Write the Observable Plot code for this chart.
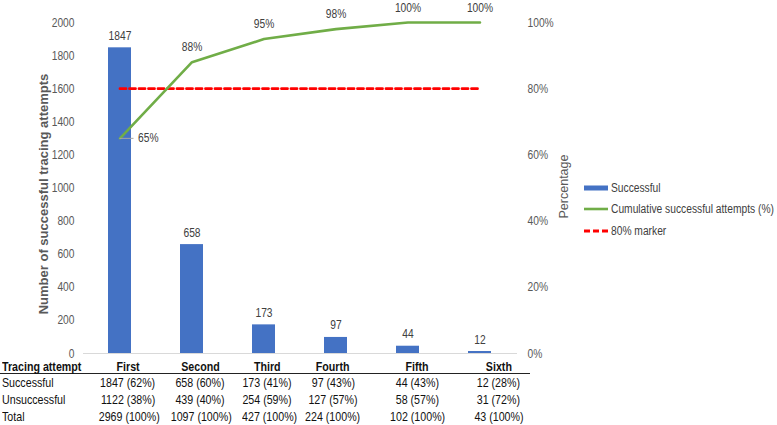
<!DOCTYPE html>
<html>
<head>
<meta charset="utf-8">
<script src="https://cdn.jsdelivr.net/npm/d3@7"></script>
<script src="https://cdn.jsdelivr.net/npm/@observablehq/plot@0.6"></script>
<style>
  html, body { margin: 0; padding: 0; background: #fff; }
  #wrap { position: relative; width: 777px; height: 425px; overflow: hidden;
          font-family: 'Liberation Sans', Arial, sans-serif; }
  #chart svg { overflow: visible; display: block; }
  #legend { position: absolute; left: 584px; top: 177px; font-size: 12.5px; color: #404040; }
  #legend .row { display: flex; align-items: center; height: 21.5px; white-space: nowrap; }
  #legend svg { margin-right: 3px; display: block; flex: none; }
  #legend span { display: inline-block; transform: scaleX(0.82); transform-origin: left center; }
  #table { position: absolute; left: 0; top: 360px; border-collapse: collapse; table-layout: fixed;
           width: 530px; font-size: 13px; color: #111; }
  #table td { padding: 0; text-align: center; white-space: nowrap; line-height: 17px; height: 17px; overflow: visible; }
  #table td span { display: inline-block; transform: scaleX(0.82); transform-origin: center center; }
  #table td.lab { text-align: left; padding-left: 2px; }
  #table td.lab span { transform-origin: left center; }
  #table tr.head td { font-weight: bold; border-bottom: 1.5px solid #222; line-height: 13px; height: 13px; }
</style>
</head>
<body>
<div id="wrap">
  <div id="chart"></div>
  <div id="legend"></div>
  <table id="table"></table>
</div>
<script>
const categories = ["First", "Second", "Third", "Fourth", "Fifth", "Sixth"];
const successful = [1847, 658, 173, 97, 44, 12];
const cumulativePct = [65, 88, 95, 98, 100, 100];
const markerPct = [80, 80, 80, 80, 80, 80];
const countTicks = [0, 200, 400, 600, 800, 1000, 1200, 1400, 1600, 1800, 2000];
const pctTicks = [0, 20, 40, 60, 80, 100];

const tableHeader = "Tracing attempt";
const rowLabels = ["Successful", "Unsuccessful", "Total"];
const unsuccessful = [1122, 439, 254, 127, 58, 31];
const totals = [2969, 1097, 427, 224, 102, 43];
const successfulShare = [62, 60, 41, 43, 43, 28];
const unsuccessfulShare = [38, 40, 59, 57, 57, 72];
const totalShare = [100, 100, 100, 100, 100, 100];

const legendItems = ["Successful", "Cumulative successful attempts (%)", "80% marker"];
const yTitle = "Number of successful tracing attempts";
const y2Title = "Percentage";

const BLUE = "#4472C4", GREEN = "#70AD47", RED = "#FF0000";
const PCT = 20; // 100% on the right axis equals 2000 on the left axis
const NARROW = 0.82; // horizontal squeeze to mimic a narrow typeface

const data = categories.map((c, i) => ({
  cat: c, n: successful[i], cum: cumulativePct[i], marker: markerPct[i]
}));

const chart = Plot.plot({
  width: 777,
  height: 358,
  marginLeft: 83,
  marginRight: 260,
  marginTop: 22,
  marginBottom: 5,
  style: { fontFamily: "'Liberation Sans', Arial, sans-serif", fontSize: "12.5px", color: "#595959", background: "transparent" },
  x: { type: "band", domain: categories, paddingInner: 0.68, paddingOuter: 0.34, axis: null },
  y: { domain: [0, 2000], axis: null },
  marks: [
    Plot.ruleY([0], { stroke: "#d9d9d9", strokeWidth: 1 }),
    Plot.barY(data, { x: "cat", y: "n", fill: BLUE }),
    Plot.text(data, { x: "cat", y: "n", text: d => String(d.n), dy: -12, fill: "#404040", fontSize: 12.5 }),
    Plot.line(data, { x: "cat", y: d => d.marker * PCT, stroke: RED, strokeWidth: 2.8, strokeDasharray: "6,3.5" }),
    Plot.line(data, { x: "cat", y: d => d.cum * PCT, stroke: GREEN, strokeWidth: 2.6 }),
    Plot.tickY(data.filter((d, i) => i === 0), { x: "cat", y: d => d.cum * PCT, stroke: "#a6a6a6", strokeWidth: 1, insetLeft: 9, dx: 2.5 }),
    Plot.text(data.filter((d, i) => i === 0), { x: "cat", y: d => d.cum * PCT, text: d => d.cum + "%", dx: 18, textAnchor: "start", fill: "#404040", fontSize: 12.5 }),
    Plot.text(data.filter((d, i) => i > 0), { x: "cat", y: d => d.cum * PCT, text: d => d.cum + "%", dy: -15, fill: "#404040", fontSize: 12.5 }),
    Plot.axisY(countTicks, { anchor: "left", tickSize: 0, tickPadding: 9, tickFormat: d => String(d), label: null, fill: "#595959" }),
    Plot.axisY(pctTicks.map(p => p * PCT), { anchor: "right", tickSize: 0, tickPadding: 10, tickFormat: d => (d / PCT) + "%", label: null, fill: "#595959" }),
    Plot.text([yTitle], { frameAnchor: "left", textAnchor: "middle", rotate: -90, dx: -40, dy: 6, fontWeight: "bold", fill: "#595959", fontSize: 13 }),
    Plot.text([y2Title], { frameAnchor: "right", textAnchor: "middle", rotate: -90, dx: 46, dy: -1.5, fill: "#595959", fontSize: 12.5 })
  ]
});

// squeeze horizontal texts (tick labels, data labels) around their anchor to mimic a narrow face
chart.querySelectorAll("text").forEach(t => {
  const tr = t.getAttribute("transform");
  if (tr) {
    if (tr.includes("rotate")) return; // axis titles are regular width
    t.setAttribute("transform", tr + ` scale(${NARROW},1)`);
  } else {
    const x = +(t.getAttribute("x") || 0), y = +(t.getAttribute("y") || 0);
    t.removeAttribute("x"); t.removeAttribute("y");
    t.setAttribute("transform", `translate(${x},${y}) scale(${NARROW},1)`);
  }
});
document.getElementById("chart").appendChild(chart);

// Legend
const legend = document.getElementById("legend");
const swatches = [
  `<svg width="24" height="8"><rect x="0" y="1.5" width="24" height="5" fill="${BLUE}"/></svg>`,
  `<svg width="24" height="8"><line x1="0" x2="24" y1="4" y2="4" stroke="${GREEN}" stroke-width="2.6"/></svg>`,
  `<svg width="24" height="8"><line x1="0" x2="24" y1="4" y2="4" stroke="${RED}" stroke-width="2.8" stroke-dasharray="6,3"/></svg>`
];
legendItems.forEach((t, i) => {
  const row = document.createElement("div");
  row.className = "row";
  row.innerHTML = swatches[i] + `<span>${t}</span>`;
  legend.appendChild(row);
});

// Table
const table = document.getElementById("table");
const colWidths = [92, 72, 72, 62, 70, 99, 63];
const colgroup = document.createElement("colgroup");
colWidths.forEach(w => { const c = document.createElement("col"); c.style.width = w + "px"; colgroup.appendChild(c); });
table.appendChild(colgroup);
function addRow(label, cells, cls) {
  const tr = document.createElement("tr");
  if (cls) tr.className = cls;
  const th = document.createElement("td");
  th.className = "lab";
  const s0 = document.createElement("span"); s0.textContent = label; th.appendChild(s0);
  tr.appendChild(th);
  cells.forEach(c => {
    const td = document.createElement("td");
    const s = document.createElement("span"); s.textContent = c; td.appendChild(s);
    tr.appendChild(td);
  });
  table.appendChild(tr);
}
addRow(tableHeader, categories, "head");
addRow(rowLabels[0], successful.map((v, i) => `${v} (${successfulShare[i]}%)`));
addRow(rowLabels[1], unsuccessful.map((v, i) => `${v} (${unsuccessfulShare[i]}%)`));
addRow(rowLabels[2], totals.map((v, i) => `${v} (${totalShare[i]}%)`));
</script>
</body>
</html>
